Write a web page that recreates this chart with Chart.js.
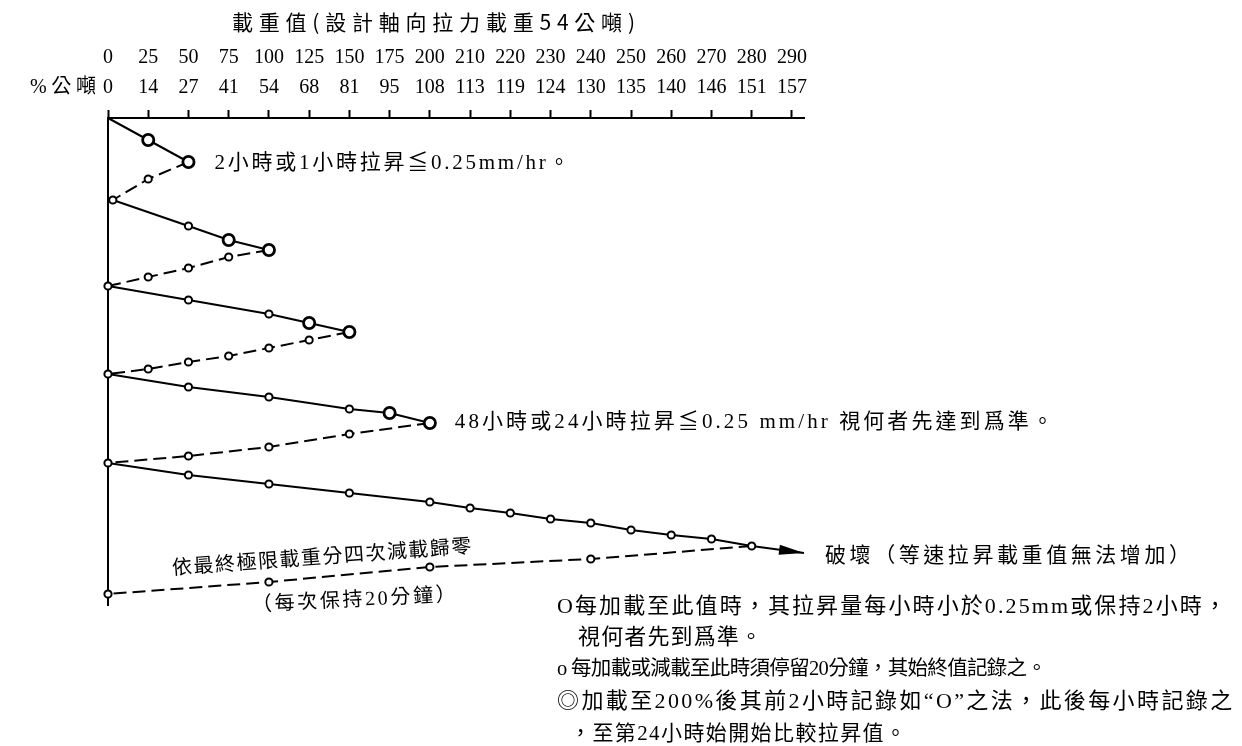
<!DOCTYPE html>
<html>
<head>
<meta charset="utf-8">
<script src="https://cdn.jsdelivr.net/npm/chart.js@4/dist/chart.umd.min.js"></script>
<style>
  html, body { margin: 0; padding: 0; background: #fff; }
  canvas { display: block; }
</style>
</head>
<body>
<canvas id="chart1" width="1242" height="746"></canvas>
<script>
// top axis: load in % of design load and in tonnes (one tick per step)
const pctLabels = ['0', '25', '50', '75', '100', '125', '150', '175', '200', '210', '220', '230', '240', '250', '260', '270', '280', '290'];
const tonLabels = ['0', '14', '27', '41', '54', '68', '81', '95', '108', '113', '119', '124', '130', '135', '140', '146', '151', '157'];

// loading path: x = load step (tick index), y = time going down, mark = O (hold 1-2h) / o (hold 20 min)
const pathX = [0, 1, 2, 1, 0.12,
               2, 3, 4, 3, 2, 1, 0,
               2, 4, 5, 6, 5, 4, 3, 2, 1, 0,
               2, 4, 6, 7, 8, 6, 4, 2, 0,
               2, 4, 6, 8, 9, 10, 11, 12, 13, 14, 15, 16];
const pathY = [0, 22, 44, 61, 82,
               108, 122, 132, 139, 150, 159, 168,
               182, 196, 205, 214, 222, 230, 238, 244, 251, 256,
               269, 279, 291, 295, 305, 316, 329, 338, 345,
               357, 366, 375, 384, 390, 395, 401, 405, 412, 417, 421, 428];
const pathMark = ['', 'O', 'O', 'o', 'o',
                  'o', 'O', 'O', 'o', 'o', 'o', 'o',
                  'o', 'o', 'O', 'O', 'o', 'o', 'o', 'o', 'o', 'o',
                  'o', 'o', 'o', 'O', 'O', 'o', 'o', 'o', 'o',
                  'o', 'o', 'o', 'o', 'o', 'o', 'o', 'o', 'o', 'o', 'o', 'o'];

// failure arrow past 280%
const failX = [16, 17.3];
const failY = [428, 435];

// final unloading in four steps
const unloadX = [16, 12, 8, 4, 0];
const unloadY = [428, 441, 449, 464, 476];
const unloadMark = ['', 'o', 'o', 'o', 'o'];

const radius = { '': 0, 'o': 3.6, 'O': 5.6 };
const ring = { '': 0, 'o': 2, 'O': 2.8 };

const CJK = '"Liberation Serif", "Noto Sans CJK TC", sans-serif';
const CJK_SANS = '"Noto Sans CJK TC", sans-serif';

function toPoints(xs, ys) {
    return xs.map((x, i) => ({ x: x, y: ys[i] }));
}

// write text stretched to a given width (the scan has wide letter spacing)
function drawFit(ctx, str, x, y, w, font, ang) {
    ctx.save();
    ctx.font = font;
    ctx.textAlign = 'left';
    ctx.textBaseline = 'middle';
    ctx.fillStyle = '#000';
    ctx.translate(x, y);
    if (ang) ctx.rotate(ang * Math.PI / 180);
    const n = [...str].length;
    const w0 = ctx.measureText(str).width;
    if ('letterSpacing' in ctx) {
        ctx.letterSpacing = ((w - w0) / (n - 1)).toFixed(2) + 'px';
    } else {
        ctx.scale(w / w0, 1);
    }
    ctx.fillText(str, 0, 0);
    ctx.restore();
}

const notes = {
    id: 'notes',
    afterDatasetsDraw(chart) {
        const ctx = chart.ctx;
        const x = chart.scales.x, y = chart.scales.y;
        // arrow head at failure
        const x0 = x.getPixelForValue(failX[0]), y0 = y.getPixelForValue(failY[0]);
        const x1 = x.getPixelForValue(failX[1]), y1 = y.getPixelForValue(failY[1]);
        ctx.save();
        ctx.translate(x1, y1);
        ctx.rotate(Math.atan2(y1 - y0, x1 - x0));
        ctx.beginPath();
        ctx.moveTo(0, 0);
        ctx.lineTo(-25, -5);
        ctx.lineTo(-25, 5);
        ctx.closePath();
        ctx.fillStyle = '#000';
        ctx.fill();
        ctx.restore();
    },
    afterDraw(chart) {
        const ctx = chart.ctx;
        const x = chart.scales.x, y = chart.scales.y;

        drawFit(ctx, '載重值(設計軸向拉力載重54公噸)', 232, 22, 403, '21px ' + CJK_SANS);
        drawFit(ctx, '%公噸', 30, 88, 66, '20px ' + CJK);

        // next to first peak, 4th peak, and failure arrow
        let px = x.getPixelForValue(pathX[2]), py = y.getPixelForValue(pathY[2]);
        drawFit(ctx, '2小時或1小時拉昇≦0.25mm/hr。', px + 26, py + 1, 355, '21px ' + CJK);
        px = x.getPixelForValue(pathX[26]); py = y.getPixelForValue(pathY[26]);
        drawFit(ctx, '48小時或24小時拉昇≦0.25 mm/hr 視何者先達到爲準。', px + 25, py - 1, 598, '21px ' + CJK);
        px = x.getPixelForValue(failX[1]); py = y.getPixelForValue(failY[1]);
        drawFit(ctx, '破壞（等速拉昇載重值無法增加）', px + 21, py + 1, 365, '21px ' + CJK_SANS);

        drawFit(ctx, '依最終極限載重分四次減載歸零', 172, 567, 300, '20px ' + CJK_SANS, -4.2);
        drawFit(ctx, '（每次保持20分鐘）', 252, 606, 204, '20px ' + CJK, -3);

        drawFit(ctx, 'O每加載至此值時，其拉昇量每小時小於0.25mm或保持2小時，', 557, 607, 669, '22px ' + CJK);
        drawFit(ctx, '視何者先到爲準。', 578, 638, 184, '22px ' + CJK);
        drawFit(ctx, 'o 每加載或減載至此時須停留20分鐘，其始終值記錄之。', 557, 670, 490, '20.5px ' + CJK);
        drawFit(ctx, '◎加載至200%後其前2小時記錄如“O”之法，此後每小時記錄之', 557, 702, 675, '22px ' + CJK);
        drawFit(ctx, '，至第24小時始開始比較拉昇值。', 570, 734, 336, '21px ' + CJK);
    }
};

Chart.defaults.font.family = CJK;
Chart.defaults.color = '#000';

const data = {
    datasets: [
        {
            label: 'loading',
            data: toPoints(pathX, pathY),
            borderColor: '#000',
            borderWidth: 2,
            segment: {
                // going back to zero is drawn dashed
                borderDash: c => c.p1.parsed.x < c.p0.parsed.x ? [13, 6] : []
            },
            pointRadius: c => radius[pathMark[c.dataIndex]],
            pointBorderWidth: c => ring[pathMark[c.dataIndex]],
            pointBackgroundColor: '#fff',
            pointBorderColor: '#000',
            tension: 0,
            clip: false
        },
        {
            label: 'failure',
            data: toPoints(failX, failY),
            borderColor: '#000',
            borderWidth: 2,
            pointRadius: 0,
            clip: false
        },
        {
            label: 'unloading',
            data: toPoints(unloadX, unloadY),
            borderColor: '#000',
            borderWidth: 2,
            borderDash: [13, 6],
            pointRadius: c => radius[unloadMark[c.dataIndex]],
            pointBorderWidth: c => ring[unloadMark[c.dataIndex]],
            pointBackgroundColor: '#fff',
            pointBorderColor: '#000',
            clip: false
        }
    ]
};

const options = {
    responsive: false,
    animation: false,
    layout: { padding: { top: 0, left: 0, right: 438, bottom: 141 } },
    plugins: {
        legend: { display: false },
        tooltip: { enabled: false },
        title: { display: false }
    },
    scales: {
        x: {
            type: 'linear',
            position: 'top',
            min: 0,
            max: 17.3,
            afterBuildTicks: s => { s.ticks = pctLabels.map((_, i) => ({ value: i })); },
            afterFit: s => { s.height = 118; s.paddingLeft = 0; s.paddingRight = 0; },
            ticks: {
                autoSkip: false,
                maxRotation: 0,
                padding: 7,
                color: '#000',
                font: { family: '"Liberation Serif", serif', size: 20, lineHeight: 1.5 },
                callback: (v, i) => [pctLabels[i], tonLabels[i]]
            },
            grid: {
                drawOnChartArea: false,
                drawTicks: true,
                tickLength: 8,
                tickWidth: 2,
                tickColor: '#000'
            },
            border: { display: true, color: '#000', width: 2 }
        },
        y: {
            type: 'linear',
            min: 0,
            max: 487,
            reverse: true,
            afterFit: s => { s.width = 108; s.paddingTop = 0; s.paddingBottom = 0; },
            ticks: { display: false },
            grid: { display: false },
            border: { display: true, color: '#000', width: 2 }
        }
    }
};

const ctx = document.getElementById('chart1').getContext('2d');
const myChart = new Chart(ctx, {
    type: 'line',
    data: data,
    options: options,
    plugins: [notes]
});
</script>
</body>
</html>
